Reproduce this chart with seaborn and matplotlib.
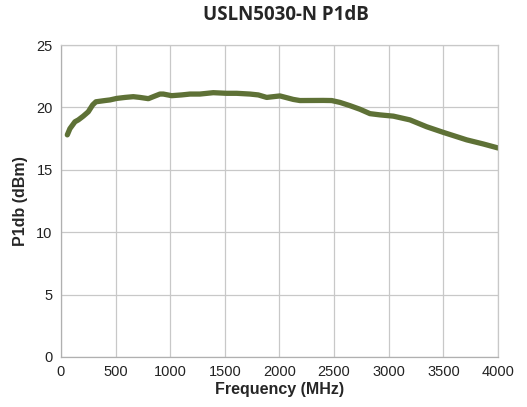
import numpy as np
import pandas as pd
import seaborn as sns
import matplotlib.pyplot as plt

freq_mhz = [58, 82, 128, 159, 204, 250, 290, 320, 403, 449, 510, 586, 662, 723,
            800, 845, 906, 937, 1013, 1104, 1181, 1272, 1394, 1516, 1608, 1730,
            1806, 1883, 2004, 2126, 2187, 2401, 2478, 2554, 2645, 2737, 2828,
            2920, 3042, 3194, 3347, 3499, 3713, 3865, 4000]
p1db_dbm = [17.8, 18.3, 18.85, 19.0, 19.3, 19.65, 20.2, 20.45, 20.55, 20.6,
            20.72, 20.8, 20.86, 20.8, 20.7, 20.86, 21.07, 21.07, 20.94, 21.0,
            21.07, 21.07, 21.18, 21.13, 21.13, 21.07, 21.0, 20.8, 20.92, 20.64,
            20.55, 20.56, 20.55, 20.4, 20.14, 19.85, 19.5, 19.4, 19.3, 19.0,
            18.45, 18.0, 17.4, 17.07, 16.75]
x_ticks = [0, 500, 1000, 1500, 2000, 2500, 3000, 3500, 4000]
y_ticks = [0, 5, 10, 15, 20, 25]

df = pd.DataFrame({'Frequency': freq_mhz, 'P1dB': p1db_dbm})

sns.set_style('white')
plt.rcParams['font.family'] = ['Liberation Sans', 'DejaVu Sans']

fig = plt.figure(figsize=(5.27, 4.07), dpi=100)
ax = fig.add_axes([0.1157, 0.1229, 0.8293, 0.7665])

sns.lineplot(data=df, x='Frequency', y='P1dB', ax=ax, color='#5e7136',
             linewidth=3.8, solid_capstyle='round', solid_joinstyle='round')

ax.set_xlim(0, 4000)
ax.set_ylim(0, 25)
ax.set_xticks(x_ticks)
ax.set_yticks(y_ticks)
ax.grid(True, color='#c8c8c8', linewidth=0.9)
ax.set_axisbelow(True)
for s in ['top', 'right']:
    ax.spines[s].set_color('#c8c8c8')
    ax.spines[s].set_linewidth(0.9)
for s in ['left', 'bottom']:
    ax.spines[s].set_color('#b0b0b0')
    ax.spines[s].set_linewidth(0.9)
ax.tick_params(axis='both', length=4, color='#b0b0b0', labelsize=10.5,
               labelcolor='#222222', pad=2)

ax.set_xlabel('Frequency (MHz)', fontsize=11.5, fontweight='bold', labelpad=2)
ax.set_ylabel('P1db (dBm)', fontsize=11.5, fontweight='bold', labelpad=6)
fig.text(0.543, 0.963, 'USLN5030-N P1dB', ha='center', va='center',
         fontsize=13.5, fontweight='bold', family=['Open Sans', 'DejaVu Sans'])

fig.savefig('out.png', dpi=100)
